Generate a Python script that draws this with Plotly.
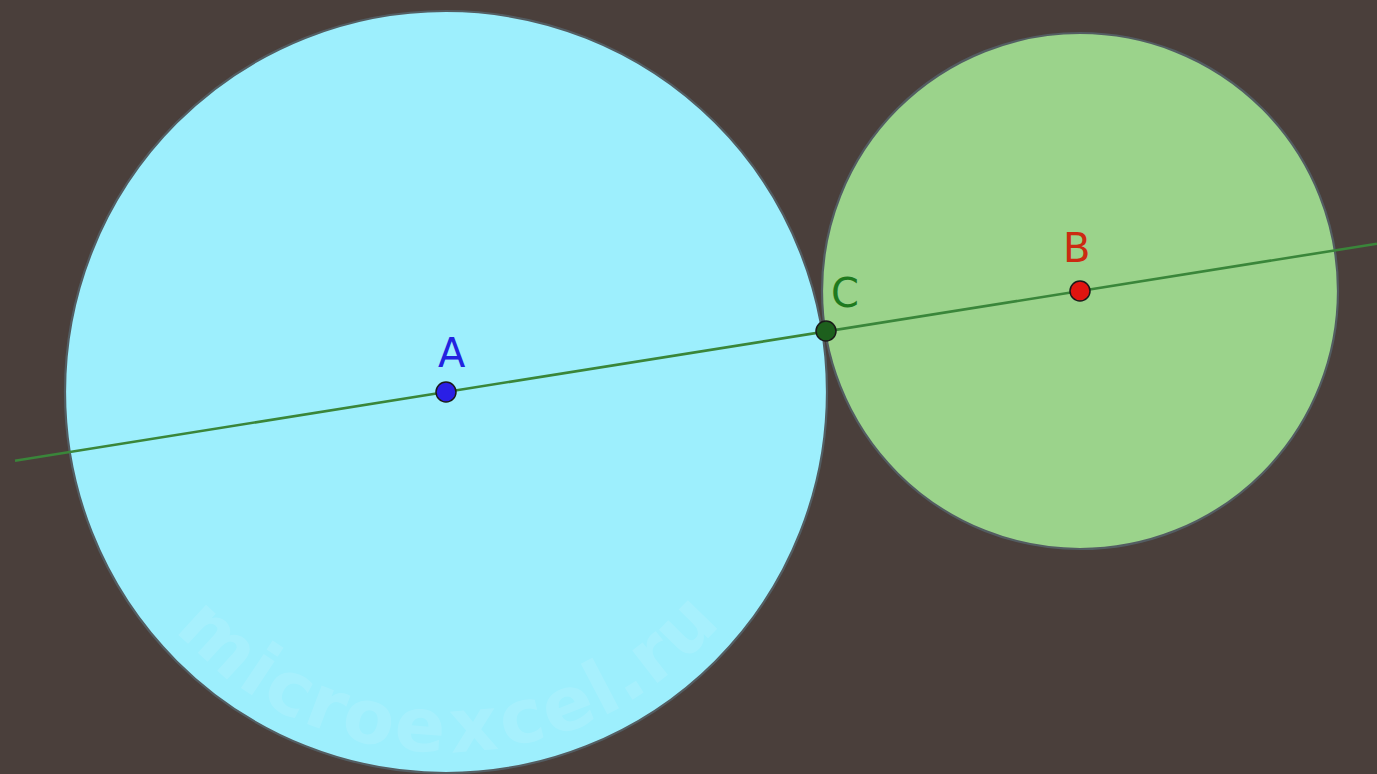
import math
import plotly.graph_objects as go

# ---- data (in picture units, y grows downward) ----
point_names = ["A", "B", "C"]
point_x = [446, 1080, 826]
point_y = [392, 291, 331]
point_colors = ["#2a1fe6", "#e0150f", "#1d5f1d"]
label_colors = ["#2323e0", "#cc2a12", "#1e7a1e"]
label_dx = [6, -4, 19]
label_dy = [-39, -43, -38]

circle_cx = [446, 1080]
circle_cy = [392, 291]
circle_r = [381, 258]
circle_fill = ["#9deffd", "#9bd38b"]

line_x_start = 15
line_x_end = 1377

watermark = "microexcel.ru"

W, H = 1377, 774
BG = "#4a3f3b"

fig = go.Figure()

# circles
for cx, cy, r, col in zip(circle_cx, circle_cy, circle_r, circle_fill):
    fig.add_shape(type="circle", xref="x", yref="y",
                  x0=cx - r, x1=cx + r, y0=cy - r, y1=cy + r,
                  fillcolor=col, line=dict(color="#535d62", width=2.2),
                  layer="below")

# watermark along an arc around A
wm_widths = {"m": 1.04, "i": 0.34, "c": 0.59, "r": 0.49, "o": 0.69, "e": 0.68,
             "x": 0.71, "l": 0.34, ".": 0.38, "u": 0.71}
wm_size = 75
wm_radius = 334
wm_center = (446, 392)
total = sum(wm_widths[ch] for ch in watermark) * wm_size
phi_mid = math.radians(89.5)
phi = phi_mid + (total / 2) / wm_radius
for ch in watermark:
    w = wm_widths[ch] * wm_size
    p = phi - (w / 2) / wm_radius
    x = wm_center[0] + wm_radius * math.cos(p)
    y = wm_center[1] + wm_radius * math.sin(p)
    fig.add_annotation(x=x, y=y, xref="x", yref="y", text="<b>" + ch + "</b>", showarrow=False,
                       textangle=math.degrees(p) - 90,
                       font=dict(family="DejaVu Sans", size=wm_size, color="rgba(255,255,255,0.11)"),
                       xanchor="center", yanchor="middle")
    phi -= w / wm_radius

# line through A and B
slope = (point_y[1] - point_y[0]) / (point_x[1] - point_x[0])
lx = [line_x_start, line_x_end]
ly = [point_y[0] + slope * (xv - point_x[0]) for xv in lx]
fig.add_trace(go.Scatter(x=lx, y=ly, mode="lines",
                         line=dict(color="#3a863a", width=2.6),
                         hoverinfo="skip", showlegend=False))

# points
fig.add_trace(go.Scatter(x=point_x, y=point_y, mode="markers",
                         marker=dict(size=20, color=point_colors,
                                     line=dict(color="#1a1a1a", width=1.5)),
                         hoverinfo="skip", showlegend=False))

# labels
for n, x, y, c, dx, dy in zip(point_names, point_x, point_y, label_colors, label_dx, label_dy):
    fig.add_annotation(x=x, y=y, xref="x", yref="y", text=n, showarrow=False,
                       xshift=dx, yshift=-dy,
                       font=dict(family="DejaVu Sans", size=40, color=c),
                       xanchor="center", yanchor="middle")

fig.update_layout(
    width=W, height=H,
    margin=dict(l=0, r=0, t=0, b=0),
    paper_bgcolor=BG, plot_bgcolor=BG,
    xaxis=dict(range=[0, W], visible=False, fixedrange=True),
    yaxis=dict(range=[H, 0], visible=False, fixedrange=True,
               scaleanchor="x", scaleratio=1),
    showlegend=False,
)

fig.write_html("out.html", config={"displayModeBar": False},
               post_script="document.body.style.margin='0';"
                           "document.body.style.background='" + BG + "';"
                           "document.body.style.overflow='hidden';")
